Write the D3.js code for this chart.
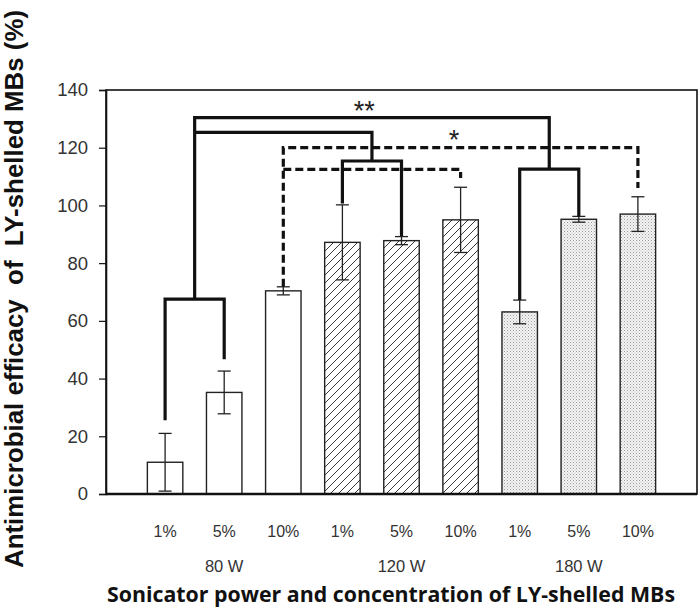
<!DOCTYPE html>
<html><head><meta charset="utf-8">
<script src="https://cdn.jsdelivr.net/npm/d3@7"></script>
<style>body{margin:0;background:#fff}svg{display:block}</style>
</head><body>
<svg id="c" width="700" height="608"></svg>
<script>
const concLabels = ["1%","5%","10%","1%","5%","10%","1%","5%","10%"];
const powerLabels = ["80 W","120 W","180 W"];
const groupOf = [0,0,0,1,1,1,2,2,2];
const means = [11, 35.2, 70.4, 87.2, 87.8, 95.0, 63.1, 95.2, 97.0];
const errs  = [10, 7.4, 1.4, 13, 1.4, 11.3, 4.1, 1.0, 6.0];
const yTicks = [0,20,40,60,80,100,120,140];
const solidBrackets = [
  [[1,25.6],[1,67.5],[2,67.5],[2,46.7]],
  [[1.5,67.5],[1.5,130.4],[7.5,130.4],[7.5,112.6]],
  [[7,67.2],[7,112.6],[8,112.6],[8,96.1]],
  [[1.5,125.3],[4.5,125.3],[4.5,115.4]],
  [[4,100.7],[4,115.4],[5,115.4],[5,89.4]]
];
const dashedBrackets = [
  [[3,71.8],[3,120],[9,120],[9,106]],
  [[3,112.5],[6,112.5],[6,109.5]]
];
const stars = [{t:"**", s:4.37, v:129.6},{t:"*", s:5.89, v:119.6}];
const yTitle = "Antimicrobial efficacy  of  LY-shelled MBs (%)";
const xTitle = "Sonicator power and concentration of LY-shelled MBs";

const svg = d3.select("#c");
const x = d3.scaleLinear().domain([0,10]).range([106,697]);
const y = d3.scaleLinear().domain([0,140]).range([494,90]);
const bw = (x(1)-x(0))*0.6;

const defs = svg.append("defs");
const hatch = defs.append("pattern").attr("id","hatch").attr("patternUnits","userSpaceOnUse")
  .attr("width",8).attr("height",8);
hatch.append("rect").attr("width",8).attr("height",8).attr("fill","#fff");
hatch.append("path").attr("d","M-1,9 L9,-1 M-2,2 L2,-2 M6,10 L10,6")
  .attr("stroke","#222").attr("stroke-width",0.9);
const dots = defs.append("pattern").attr("id","dots").attr("patternUnits","userSpaceOnUse")
  .attr("width",3).attr("height",3);
dots.append("rect").attr("width",3).attr("height",3).attr("fill","#f4f4f4");
dots.append("rect").attr("width",1).attr("height",1).attr("fill","#9a9a9a");
dots.append("rect").attr("x",1.5).attr("y",1.5).attr("width",1).attr("height",1).attr("fill","#bbb");

const fills = ["#fff","url(#hatch)","url(#dots)"];

// frame
svg.append("rect").attr("x",x(0)).attr("y",y(140)).attr("width",x(10)-x(0)).attr("height",y(0)-y(140))
  .attr("fill","none").attr("stroke","#111").attr("stroke-width",1.6);

// y axis
const ya = svg.append("g").attr("transform",`translate(${x(0)},0)`)
  .call(d3.axisLeft(y).tickValues(yTicks).tickSize(7).tickPadding(11));
ya.select(".domain").attr("stroke","#111").attr("stroke-width",1.6);
ya.selectAll(".tick line").attr("stroke","#111").attr("stroke-width",1.2);
ya.selectAll("text").attr("font-family","Liberation Sans, Arial, sans-serif").attr("font-size",18.5).attr("fill","#333");

// bars
svg.append("g").selectAll("rect").data(means).join("rect")
  .attr("x",(d,i)=>x(i+1)-bw/2).attr("y",d=>y(d)).attr("width",bw).attr("height",d=>y(0)-y(d))
  .attr("fill",(d,i)=>fills[groupOf[i]]).attr("stroke","#222").attr("stroke-width",1.4);

// bottom axis line
svg.append("line").attr("x1",x(0)).attr("x2",x(10)).attr("y1",y(0)).attr("y2",y(0))
  .attr("stroke","#111").attr("stroke-width",2.4);

// error bars
const eb = svg.append("g").attr("stroke","#222").attr("stroke-width",1.3);
means.forEach((m,i)=>{
  const cx = x(i+1), lo=y(m-errs[i]), hi=y(m+errs[i]);
  eb.append("line").attr("x1",cx).attr("x2",cx).attr("y1",lo).attr("y2",hi);
  eb.append("line").attr("x1",cx-6.5).attr("x2",cx+6.5).attr("y1",lo).attr("y2",lo);
  eb.append("line").attr("x1",cx-6.5).attr("x2",cx+6.5).attr("y1",hi).attr("y2",hi);
});

// brackets
const line = d3.line().x(d=>x(d[0])).y(d=>y(d[1]));
svg.append("g").selectAll("path").data(solidBrackets).join("path")
  .attr("d",line).attr("fill","none").attr("stroke","#111").attr("stroke-width",3.2).attr("stroke-linejoin","miter");
svg.append("g").selectAll("path").data(dashedBrackets).join("path")
  .attr("d",line).attr("fill","none").attr("stroke","#111").attr("stroke-width",3.2).attr("stroke-dasharray","8,4");

svg.append("g").selectAll("text").data(stars).join("text")
  .attr("x",d=>x(d.s)).attr("y",d=>y(d.v)).attr("text-anchor","middle")
  .attr("font-family","Liberation Sans, Arial, sans-serif").attr("font-size",27)
  .attr("fill","#222").text(d=>d.t);

// category labels
svg.append("g").selectAll("text").data(concLabels).join("text")
  .attr("x",(d,i)=>x(i+1)).attr("y",537).attr("text-anchor","middle")
  .attr("font-family","Liberation Sans, Arial, sans-serif").attr("font-size",16).attr("fill","#333").text(d=>d);
svg.append("g").selectAll("text").data(powerLabels).join("text")
  .attr("x",(d,i)=>x(2+i*3)).attr("y",572).attr("text-anchor","middle")
  .attr("font-family","Liberation Sans, Arial, sans-serif").attr("font-size",16.5).attr("fill","#333").text(d=>d);

// titles
svg.append("text").attr("x",391).attr("y",602).attr("text-anchor","middle")
  .attr("font-family","Open Sans, sans-serif").attr("font-weight","bold").attr("font-size",20.5)
  .attr("textLength",568).attr("lengthAdjust","spacingAndGlyphs")
  .attr("fill","#111").text(xTitle);
svg.append("text").attr("transform","translate(23,289) rotate(-90)").attr("text-anchor","middle")
  .attr("font-family","Liberation Sans, Arial, sans-serif").attr("font-weight","bold").attr("font-size",26)
  .attr("textLength",558).attr("lengthAdjust","spacingAndGlyphs")
  .attr("fill","#111").attr("xml:space","preserve").style("white-space","pre").text(yTitle);
</script>
</body></html>
